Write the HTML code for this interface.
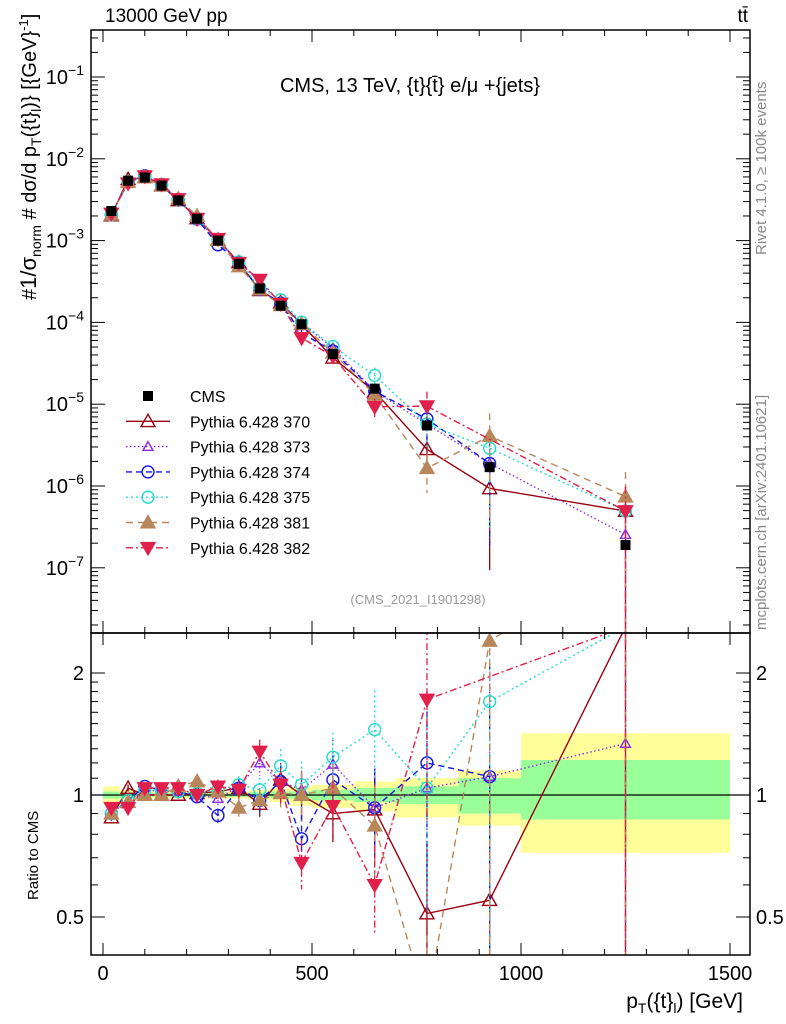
<!DOCTYPE html>
<html><head><meta charset="utf-8"><style>
html,body{margin:0;padding:0;background:#fff;overflow:hidden;width:786px;height:1024px;}
svg{display:block;font-family:"Liberation Sans",sans-serif;}
</style></head><body>
<svg id="chart" width="786" height="1024" viewBox="0 0 786 1024" xmlns="http://www.w3.org/2000/svg">
<defs>
<clipPath id="cm"><rect x="91" y="30" width="659" height="603"/></clipPath>
<clipPath id="cr"><rect x="91" y="633" width="659" height="322"/></clipPath>
</defs>
<g id="bands" clip-path="url(#cr)"></g>
<g id="main"></g>
<g id="ratio"></g>
<g id="axes"></g>
<text x="105" y="22" font-size="19">13000 GeV pp</text>
<text x="748" y="22" font-size="19" text-anchor="end">tt̄</text>
<text x="410" y="92" font-size="20" text-anchor="middle">CMS, 13 TeV, {t}{t̄} e/μ +{jets}</text>
<text x="418" y="604" font-size="13" fill="#999" text-anchor="middle">(CMS_2021_I1901298)</text>
<text transform="translate(766,255) rotate(-90)" font-size="15" fill="#888">Rivet 4.1.0, ≥ 100k events</text>
<text transform="translate(766,630) rotate(-90)" font-size="15" fill="#888">mcplots.cern.ch [arXiv:2401.10621]</text>
<text transform="translate(36,300) rotate(-90)" font-size="20">#<tspan font-size="22">1/σ</tspan><tspan font-size="14" dy="5">norm</tspan><tspan dy="-5"> # dσ/d p</tspan><tspan font-size="14" dy="5">T</tspan><tspan dy="-5">({t}</tspan><tspan font-size="14" dy="5">l</tspan><tspan dy="-5">)} [{GeV}</tspan><tspan font-size="13" dy="-8">-1</tspan><tspan dy="8">]</tspan></text>
<text transform="translate(38,900) rotate(-90)" font-size="15">Ratio to CMS</text>
<text x="743" y="1008" font-size="21" text-anchor="end">p<tspan font-size="14" dy="5">T</tspan><tspan dy="-5">({t}</tspan><tspan font-size="14" dy="5">l</tspan><tspan dy="-5">) [GeV]</tspan></text>
<g id="legend"></g>
</svg>
<script>
const binCenters=[20,60,100,140,180,225,275,325,375,425,475,550,650,775,925,1250];
const binEdges=[0,40,80,120,160,200,250,300,350,400,450,500,600,700,850,1000,1500];
const cmsValues=[2.3e-3,5.4e-3,5.9e-3,4.7e-3,3.1e-3,1.85e-3,1.0e-3,5.2e-4,2.6e-4,1.6e-4,9.5e-5,4.1e-5,1.55e-5,5.5e-6,1.7e-6,1.9e-7];
const bandTotalUp=[0.05,0.03,0.02,0.02,0.02,0.02,0.02,0.02,0.03,0.04,0.05,0.06,0.08,0.1,0.15,0.42];
const bandTotalDn=[0.05,0.03,0.02,0.02,0.02,0.02,0.02,0.02,0.03,0.04,0.06,0.07,0.09,0.12,0.16,0.28];
const bandStatUp=[0.02,0.015,0.01,0.01,0.01,0.01,0.01,0.01,0.015,0.02,0.02,0.03,0.04,0.05,0.1,0.22];
const bandStatDn=[0.02,0.015,0.01,0.01,0.01,0.01,0.01,0.01,0.015,0.02,0.02,0.03,0.04,0.05,0.1,0.13];
const ratio370=[0.88,1.04,1.0,1.0,1.0,1.01,1.02,1.04,0.95,1.09,1.0,0.9,0.92,0.51,0.55,2.6];
const ratio373=[0.9,0.97,1.02,1.03,1.02,1.0,0.98,1.05,1.2,1.08,1.03,1.19,0.93,1.04,1.11,1.34];
const ratio374=[0.9,0.97,1.05,1.03,1.02,0.99,0.89,1.04,0.97,1.08,0.78,1.09,0.93,1.2,1.11,null];
const ratio375=[0.9,0.97,1.03,1.03,1.02,1.01,1.03,1.06,1.03,1.18,1.06,1.24,1.45,1.04,1.7,2.6];
const ratio381=[0.9,0.96,1.0,1.0,1.05,1.08,1.02,0.93,0.97,1.01,1.0,1.04,0.84,0.3,2.4,3.9];
const ratio382=[0.93,0.93,1.04,1.04,1.04,1.0,1.05,1.03,1.28,1.06,0.68,0.94,0.6,1.72,null,2.6];
const modelRelErr=[0.02,0.02,0.02,0.02,0.02,0.03,0.04,0.05,0.07,0.1,0.14,0.15,0.25,0.5,0.9,1.0];
const series=[
 {name:'Pythia 6.428 370',r:ratio370,c:'#990011',dash:'',m:'tri',fill:false},
 {name:'Pythia 6.428 373',r:ratio373,c:'#8a2be2',dash:'1.5,2.5',m:'tri',fill:false,small:true},
 {name:'Pythia 6.428 374',r:ratio374,c:'#1515e6',dash:'6,4',m:'circ',fill:false},
 {name:'Pythia 6.428 375',r:ratio375,c:'#22ddcc',dash:'2,3',m:'circ',fill:false},
 {name:'Pythia 6.428 381',r:ratio381,c:'#b8865b',dash:'7,5',m:'tri',fill:true},
 {name:'Pythia 6.428 382',r:ratio382,c:'#e0204a',dash:'7,3,2,3',m:'dtri',fill:true}
];
const NS='http://www.w3.org/2000/svg';
const X=v=>103+v*0.418;
const YM=v=>77-(Math.log10(v)+1)*81.8;
const YR=v=>795-Math.log2(v)*122;
function mk(tag,attrs,parent){const e=document.createElementNS(NS,tag);for(const k in attrs)e.setAttribute(k,attrs[k]);parent.appendChild(e);return e;}
const main=document.getElementById('main'),ratio=document.getElementById('ratio'),bands=document.getElementById('bands'),axes=document.getElementById('axes'),legend=document.getElementById('legend');
for(let i=0;i<binCenters.length;i++){
 const x0=X(binEdges[i]),x1=X(binEdges[i+1]);
 const y=mk('rect',{x:x0,y:YR(1+bandTotalUp[i]),width:x1-x0,height:YR(1-bandTotalDn[i])-YR(1+bandTotalUp[i]),fill:'#ffff99'},bands);
 
 
 const g=mk('rect',{x:x0,y:YR(1+bandStatUp[i]),width:x1-x0,height:YR(1-bandStatDn[i])-YR(1+bandStatUp[i]),fill:'#99ff99'},bands);
 
 
}
const one=mk('line',{x1:91,x2:750,y1:YR(1),y2:YR(1),stroke:'#000','stroke-width':1.2},ratio);


function marker(s,x,y,parent,sz){
 sz=sz||(s.small?5:7);
 let e;
 if(s.m==='circ')e=mk('circle',{cx:x,cy:y,r:sz*0.85},parent);
 else if(s.m==='tri')e=mk('polygon',{points:`${x},${y-sz} ${x-sz},${y+sz*0.75} ${x+sz},${y+sz*0.75}`},parent);
 else e=mk('polygon',{points:`${x},${y+sz} ${x-sz},${y-sz*0.75} ${x+sz},${y-sz*0.75}`},parent);
 e.setAttribute('fill',s.fill?s.c:'none');e.setAttribute('stroke',s.c);e.setAttribute('stroke-width',1.4);
 return e;
}
function drawSeries(s,Yf,vals,parent,clip){
 const g=mk('g',{'clip-path':`url(#${clip})`},parent);
 
 
 let pts=[];
 vals.forEach((v,i)=>{if(v!=null)pts.push([X(binCenters[i]),Yf(v),v,i]);});
 const pl=mk('polyline',{points:pts.map(p=>p[0]+','+p[1]).join(' '),fill:'none',stroke:s.c,'stroke-width':1.4,'stroke-dasharray':s.dash},g);
 
 
 pts.forEach(p=>{
  const e=modelRelErr[p[3]],lo=Math.max(p[2]*(1-e),1e-9);
  const eb=mk('line',{x1:p[0],x2:p[0],y1:Yf(p[2]*(1+e)),y2:Yf(lo),stroke:s.c,'stroke-width':1.3,'stroke-dasharray':s.dash},g);
  
  
  const m=marker(s,p[0],p[1],g);
  
  
 });
}
series.forEach(s=>drawSeries(s,YM,s.r.map((r,i)=>r==null?null:r*cmsValues[i]),main,'cm'));
cmsValues.forEach((v,i)=>{
 const r=mk('rect',{x:X(binCenters[i])-5,y:YM(v)-5,width:10,height:10,fill:'#000'},main);
 
 
});
series.forEach(s=>drawSeries(s,YR,s.r,ratio,'cr'));
[[91,30,659,603],[91,633,659,322]].forEach(f=>{
 const r=mk('rect',{x:f[0],y:f[1],width:f[2],height:f[3],fill:'none',stroke:'#000','stroke-width':1.5},axes);
 
 
});
const xTickLabels=['0','500','1000','1500'];
for(let v=0;v<=1500;v+=100){
 const x=X(v),L=v%500===0?12:6;
 [[633,-1],[955,-1],[30,1],[633,1]].forEach(([y,d])=>mk('line',{x1:x,x2:x,y1:y,y2:y+d*L,stroke:'#000'},axes));
}
xTickLabels.forEach(t=>{const e=mk('text',{x:X(+t),y:980,'font-size':20,'text-anchor':'middle'},axes);e.textContent=t;
 });
const yExps=[-1,-2,-3,-4,-5,-6,-7];
for(let d=-8;d<=-1;d++){for(let k=1;k<10;k++){const v=k*Math.pow(10,d),y=YM(v);if(y<30||y>633)continue;
 const L=k===1?14:7;mk('line',{x1:91,x2:91+L,y1:y,y2:y,stroke:'#000'},axes);mk('line',{x1:750,x2:750-L,y1:y,y2:y,stroke:'#000'},axes);}}
yExps.forEach(d=>{const e=mk('text',{x:84,y:YM(Math.pow(10,d))+7,'font-size':20,'text-anchor':'end'},axes);
 e.innerHTML=`10<tspan font-size="14" dy="-9">${'\u2212'+(-d)}</tspan>`;
 });
const ratioTicks=[0.5,0.6,0.7,0.8,0.9,1,2];
ratioTicks.forEach(v=>{const y=YR(v),L=(v===1||v===2||v===0.5)?14:7;mk('line',{x1:91,x2:91+L,y1:y,y2:y,stroke:'#000'},axes);mk('line',{x1:750,x2:750-L,y1:y,y2:y,stroke:'#000'},axes);});
[1.1,1.2,1.3,1.4,1.5,1.6,1.7,1.8,1.9].forEach(v=>{const y=YR(v);mk('line',{x1:91,x2:98,y1:y,y2:y,stroke:'#000'},axes);mk('line',{x1:750,x2:743,y1:y,y2:y,stroke:'#000'},axes);});
const ratioLabels=['0.5','1','2'];
ratioLabels.forEach(t=>{[[84,'end'],[756,'start']].forEach(([x,a])=>{const e=mk('text',{x:x,y:YR(+t)+7,'font-size':20,'text-anchor':a},axes);e.textContent=t;
 });});
let ly=396;
{const r=mk('rect',{x:143,y:ly-5,width:10,height:10,fill:'#000'},legend);
 const t=mk('text',{x:190,y:ly+6,'font-size':16},legend);t.textContent='CMS';}
series.forEach((s,i)=>{const y=ly+25.3*(i+1);
 mk('line',{x1:126,x2:170,y1:y,y2:y,stroke:s.c,'stroke-width':1.4,'stroke-dasharray':s.dash},legend);
 marker(s,148,y,legend);
 const t=mk('text',{x:190,y:y+6,'font-size':16},legend);t.textContent=s.name;
 
 
});
</script>
</body></html>
